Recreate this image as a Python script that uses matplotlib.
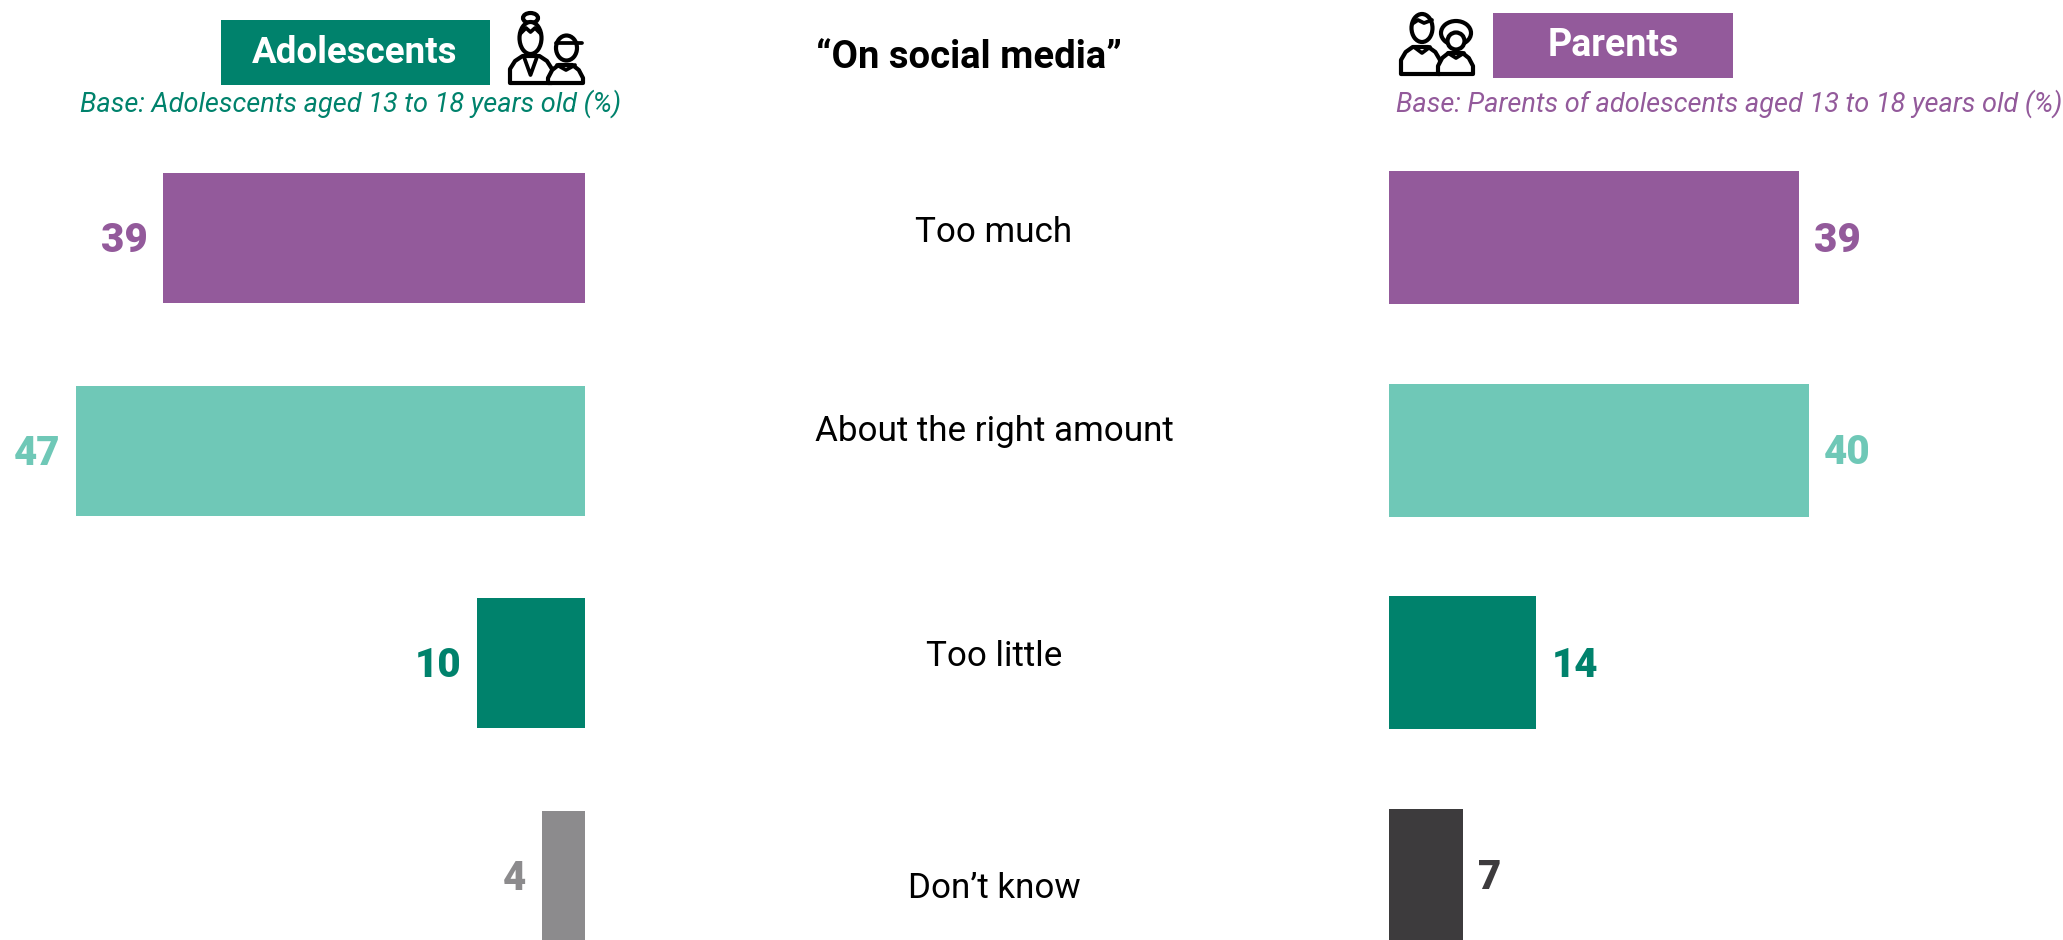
import matplotlib
matplotlib.use("Agg")
import matplotlib.pyplot as plt
from matplotlib.patches import Ellipse, Rectangle

# Survey responses
categories = ["Too much", "About the right amount", "Too little", "Don’t know"]
adolescents = [39, 47, 10, 4]
parents = [39, 40, 14, 7]
adolescent_colors = ["#935A9B", "#6FC8B7", "#00826C", "#8C8B8D"]
parent_colors = ["#935A9B", "#6FC8B7", "#00826C", "#3D3B3D"]
category_y = [232, 432, 657, 889]

W, H = 2063, 940
PURPLE, GREEN = "#935A9B", "#00826C"
FONT = "Roboto"
STROKE = 3.0

fig = plt.figure(figsize=(W / 100, H / 100), dpi=100, facecolor="white")


def panel(x0, x1, xlim, colors, values, height, y0, pitch, side):
    ax = fig.add_axes([x0 / W, 0, (x1 - x0) / W, 1])
    ax.barh(range(len(values)), values, height=height, color=colors, linewidth=0)
    ax.set_xlim(*xlim)
    ax.set_ylim((H - y0) / pitch, -y0 / pitch)
    ax.axis("off")
    for i, (v, c) in enumerate(zip(values, colors)):
        ax.annotate(str(v), (v, i), xytext=(side * 11, 1), textcoords="offset points",
                    ha="left" if side > 0 else "right", va="center_baseline",
                    color=c, fontsize=29, fontweight="black", family=FONT)
    return ax


# Mirrored bars: the left panel grows leftwards from its right edge
panel(0, 585, (585 / 10.83, 0), adolescent_colors, adolescents, 0.612, 238, 212.6, -1)
panel(1389, 2063, (0, (2063 - 1389) / 10.5), parent_colors, parents, 0.625, 237.5, 212.6, 1)

# Overlay in pixel coordinates for headers, icons and the central labels
ov = fig.add_axes([0, 0, 1, 1], zorder=5)
ov.set_xlim(0, W)
ov.set_ylim(H, 0)
ov.axis("off")
ov.patch.set_alpha(0)

ov.add_patch(Rectangle((221, 20), 268.5, 65, color=GREEN, lw=0))
ov.add_patch(Rectangle((1493, 13), 240, 65, color=PURPLE, lw=0))
ov.text(355, 53, "Adolescents", color="white", fontsize=26.5, fontweight="bold",
        family=FONT, ha="center", va="center")
ov.text(1613, 46, "Parents", color="white", fontsize=27, fontweight="bold",
        family=FONT, ha="center", va="center")
ov.text(80, 104, "Base: Adolescents aged 13 to 18 years old (%)", color=GREEN, fontsize=19.5,
        style="italic", family=FONT, ha="left", va="center")
ov.text(1396, 104, "Base: Parents of adolescents aged 13 to 18 years old (%)", color=PURPLE,
        fontsize=19.55, style="italic", family=FONT, ha="left", va="center")
ov.text(969, 57, "“On social media”", color="black", fontsize=27.5, fontweight="bold",
        family=FONT, ha="center", va="center")
for label, y in zip(categories, category_y):
    ov.text(994, y, label, color="black", fontsize=25.2, family=FONT, ha="center", va="center")


def outline(patch):
    patch.set(facecolor="white", edgecolor="black", linewidth=STROKE)
    ov.add_patch(patch)


def torso(x0, x1, top, bottom):
    w = x1 - x0
    ov.fill([x0, x0, x0 + 0.12 * w, x0 + 0.3 * w, x1 - 0.3 * w, x1 - 0.12 * w, x1, x1],
            [bottom, top + 13, top + 5, top, top, top + 5, top + 13, bottom],
            facecolor="white", edgecolor="black", linewidth=STROKE, joinstyle="round")


def stroke(xs, ys):
    ov.plot(xs, ys, color="black", lw=STROKE - 0.3, solid_capstyle="round")


# Adolescents icon: girl with a bun beside a boy in a cap
torso(510, 552, 56, 83)
torso(548, 583, 65, 83)
outline(Ellipse((530.5, 18), 15, 10))
outline(Ellipse((530.5, 38), 22, 32))
stroke([520, 526, 530.5, 535, 541], [34, 28, 32, 28, 34])
stroke([524, 530.5, 537], [57, 75, 57])
outline(Ellipse((566.5, 48), 21, 25))
stroke([556, 582], [43, 43])
stroke([557, 566, 575], [65, 70, 65])

# Parents icon: man and woman side by side
torso(1401, 1440, 47, 74)
torso(1438, 1473, 53, 74)
outline(Ellipse((1422, 28), 21, 28))
stroke([1412, 1418, 1424, 1432], [24, 20, 23, 20])
stroke([1414, 1422, 1430], [47, 53, 47])
outline(Ellipse((1456, 33), 30, 24))
outline(Ellipse((1456, 41), 17, 17))
stroke([1448, 1456, 1464], [53, 58, 53])

fig.savefig("out.png", dpi=100, facecolor="white")
